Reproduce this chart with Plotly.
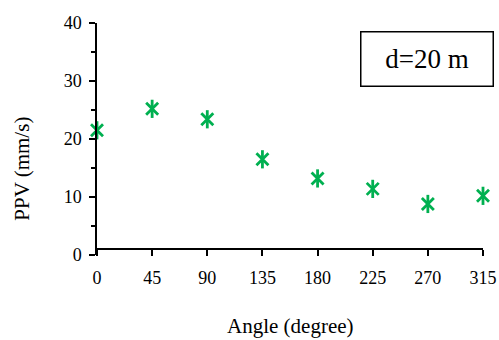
import plotly.graph_objects as go

# Peak particle velocity measured around the source at d = 20 m
angles = [0, 45, 90, 135, 180, 225, 270, 315]
ppv = [21.5, 25.2, 23.4, 16.5, 13.2, 11.4, 8.8, 10.2]
x_ticks = [0, 45, 90, 135, 180, 225, 270, 315]
y_ticks = [0, 10, 20, 30, 40]

GREEN = "#00B050"
FONT = "Liberation Serif, Times New Roman, serif"

W, H = 499, 340
L, R, T, B = 97, 16, 23, 84.5
plot_w = W - L - R
plot_h = H - T - B

fig = go.Figure()

# Star marker = thin X overlaid with a vertical bar
for sym, size in (("x-thin-open", 12), ("line-ns-open", 13)):
    fig.add_trace(go.Scatter(
        x=angles, y=ppv, mode="markers", cliponaxis=False, showlegend=False,
        marker=dict(symbol=sym, size=size, color=GREEN,
                    line=dict(color=GREEN, width=2.8)),
    ))

fig.update_layout(
    width=W, height=H,
    margin=dict(l=L, r=R, t=T, b=B, pad=0, autoexpand=False),
    paper_bgcolor="white", plot_bgcolor="white",
    font=dict(family=FONT, size=18, color="black"),
    xaxis=dict(
        range=[0, 315], tickvals=x_ticks, ticktext=[str(v) for v in x_ticks],
        showgrid=False, zeroline=False, showline=True, linecolor="black",
        linewidth=1.5, ticks="outside", ticklen=6, tickwidth=1.5,
        tickcolor="black", anchor="free", position=1 / 40,
        ticklabelstandoff=6, automargin=False,
    ),
    yaxis=dict(
        range=[0, 40], tickvals=y_ticks, showgrid=False, zeroline=False,
        showline=True, linecolor="black", linewidth=1.5, ticks="outside",
        ticklen=6, tickwidth=1.5, tickcolor="black", ticklabelstandoff=4,
        automargin=False,
        minor=dict(dtick=5, ticks="outside", ticklen=4, tickwidth=1.5,
                   tickcolor="black", showgrid=False),
    ),
)

# Axis titles
fig.add_annotation(
    text="PPV (mm/s)", textangle=-90, showarrow=False,
    xref="paper", yref="paper", x=(22 - L) / plot_w, y=(H - B - 169) / plot_h,
    xanchor="center", yanchor="middle", font=dict(family=FONT, size=21),
)
fig.add_annotation(
    text="Angle (degree)", showarrow=False,
    xref="paper", yref="paper", x=(290 - L) / plot_w, y=(H - B - 327) / plot_h,
    xanchor="center", yanchor="middle", font=dict(family=FONT, size=21),
)

# Distance label box
fig.add_annotation(
    text="d=20 m", showarrow=False,
    xref="paper", yref="paper",
    x=(426.5 - L) / plot_w, y=(H - B - 59.2) / plot_h,
    xanchor="center", yanchor="middle",
    width=131, height=53, borderpad=0,
    bordercolor="black", borderwidth=1.5, bgcolor="white",
    font=dict(family=FONT, size=27),
)

fig.write_html("out.html")
